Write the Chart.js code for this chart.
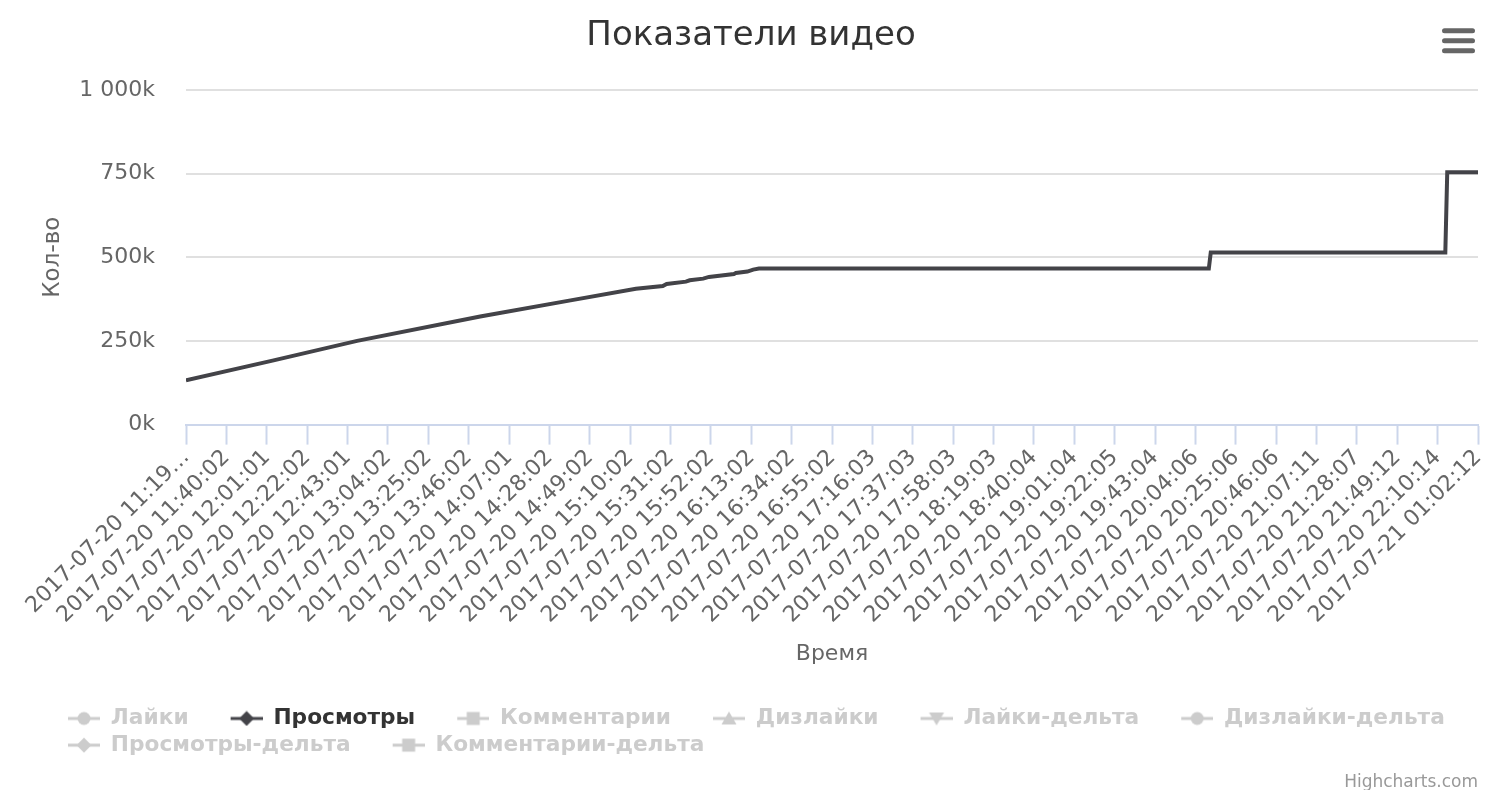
<!DOCTYPE html>
<html lang="ru">
<head>
<meta charset="utf-8">
<title>Показатели видео</title>
<script src="https://cdn.jsdelivr.net/npm/chart.js@4/dist/chart.umd.min.js"></script>
<style>
  html, body { margin: 0; padding: 0; background: #fff; }
  #wrap { width: 1502px; height: 790px; position: relative; }
</style>
</head>
<body>
<div id="wrap"><canvas id="videoChart"></canvas></div>
<script>
// tick labels, one every 21 samples
const timeLabels = [
  '2017-07-20 11:19…', '2017-07-20 11:40:02', '2017-07-20 12:01:01', '2017-07-20 12:22:02',
  '2017-07-20 12:43:01', '2017-07-20 13:04:02', '2017-07-20 13:25:02', '2017-07-20 13:46:02',
  '2017-07-20 14:07:01', '2017-07-20 14:28:02', '2017-07-20 14:49:02', '2017-07-20 15:10:02',
  '2017-07-20 15:31:02', '2017-07-20 15:52:02', '2017-07-20 16:13:02', '2017-07-20 16:34:02',
  '2017-07-20 16:55:02', '2017-07-20 17:16:03', '2017-07-20 17:37:03', '2017-07-20 17:58:03',
  '2017-07-20 18:19:03', '2017-07-20 18:40:04', '2017-07-20 19:01:04', '2017-07-20 19:22:05',
  '2017-07-20 19:43:04', '2017-07-20 20:04:06', '2017-07-20 20:25:06', '2017-07-20 20:46:06',
  '2017-07-20 21:07:11', '2017-07-20 21:28:07', '2017-07-20 21:49:12', '2017-07-20 22:10:14',
  '2017-07-21 01:02:12'
];
const labelStep = 21;
const lastSample = 672;

// "Просмотры": sample index -> views
const sampleIndex = [0, 45, 89, 153, 200, 234, 248, 250, 260, 262, 269, 272, 285, 286, 292, 295, 298, 532, 533, 655, 656, 672];
const views = [132000, 191000, 250000, 323000, 371000, 406000, 414000, 420000, 427000, 431000, 436000, 441000,
  450000, 453000, 457000, 463000, 466000, 466000, 514000, 514000, 754000, 754000];

const seriesNames = ['Лайки', 'Просмотры', 'Комментарии', 'Дизлайки', 'Лайки-дельта',
  'Дизлайки-дельта', 'Просмотры-дельта', 'Комментарии-дельта'];
const seriesColors = ['#7cb5ec', '#434348', '#90ed7d', '#f7a35c', '#8085e9', '#f15c80', '#e4d354', '#2b908f'];
const seriesMarkers = ['circle', 'diamond', 'square', 'triangle', 'triangleDown', 'circle', 'diamond', 'square'];
const seriesHidden = [true, false, true, true, true, true, true, true];

const FONT = "'DejaVu Sans', 'Lucida Grande', Verdana, sans-serif";
const HIDDEN_GREY = '#cccccc';
const SYMBOL_GAP = 37;   // room left of each legend symbol (item distance)
const LEGEND_LEFT = 68;  // where the legend rows begin

// legend symbol: line with marker, with transparent room on the left for item spacing
function makeSymbol(shape, color) {
  const gap = SYMBOL_GAP, w = gap + 32, h = 16;
  const c = document.createElement('canvas');
  c.width = w; c.height = h;
  const g = c.getContext('2d');
  g.strokeStyle = color;
  g.fillStyle = color;
  g.lineWidth = 3;
  g.beginPath();
  g.moveTo(gap, h / 2);
  g.lineTo(w, h / 2);
  g.stroke();
  const cx = gap + 16, cy = h / 2;
  g.beginPath();
  if (shape === 'circle') {
    g.arc(cx, cy, 6.5, 0, Math.PI * 2);
  } else if (shape === 'diamond') {
    g.moveTo(cx, cy - 7.5); g.lineTo(cx + 7.5, cy); g.lineTo(cx, cy + 7.5); g.lineTo(cx - 7.5, cy);
  } else if (shape === 'square') {
    g.rect(cx - 6.5, cy - 6.5, 13, 13);
  } else if (shape === 'triangle') {
    g.moveTo(cx, cy - 7); g.lineTo(cx + 7.5, cy + 6); g.lineTo(cx - 7.5, cy + 6);
  } else {
    g.moveTo(cx - 7.5, cy - 6); g.lineTo(cx + 7.5, cy - 6); g.lineTo(cx, cy + 7);
  }
  g.closePath();
  g.fill();
  return c;
}

const datasets = seriesNames.map((name, i) => ({
  label: name,
  data: name === 'Просмотры' ? sampleIndex.map((x, k) => ({ x, y: views[k] })) : [],
  hidden: seriesHidden[i],
  borderColor: seriesColors[i],
  backgroundColor: seriesColors[i],
  borderWidth: 4,
  pointRadius: 0,
  tension: 0,
  fill: false
}));

// hamburger menu icon and credit text
const decorations = {
  id: 'decorations',
  afterDraw(chart) {
    const ctx = chart.ctx;
    ctx.save();
    ctx.strokeStyle = '#666666';
    ctx.lineWidth = 5;
    ctx.lineCap = 'round';
    [30.8, 40.8, 50.8].forEach(y => {
      ctx.beginPath();
      ctx.moveTo(1444.5, y);
      ctx.lineTo(1472.5, y);
      ctx.stroke();
    });
    ctx.fillStyle = '#999999';
    ctx.font = '17px ' + FONT;
    ctx.textAlign = 'right';
    ctx.textBaseline = 'middle';
    ctx.fillText('Highcharts.com', 1478, 783);
    ctx.restore();
  }
};

// keep legend rows left aligned at the same x, like the original
const legendRows = {
  id: 'legendRows',
  beforeDraw(chart) {
    const legend = chart.legend;
    const lw = legend && legend.lineWidths;
    if (!lw || !lw.length) return;
    const pad = legend.options.labels.padding;
    const w = legend.left + pad + legend.right - 2 * (LEGEND_LEFT - SYMBOL_GAP);
    for (let i = 0; i < lw.length; i++) lw[i] = w;
  }
};

new Chart(document.getElementById('videoChart'), {
  type: 'line',
  data: { datasets },
  plugins: [decorations, legendRows],
  options: {
    responsive: true,
    maintainAspectRatio: false,
    animation: false,
    events: [],
    layout: { padding: { left: 0, right: 0, top: 0, bottom: 24 } },
    plugins: {
      title: {
        display: true,
        text: 'Показатели видео',
        color: '#333333',
        font: { family: FONT, size: 34, weight: 'normal' },
        padding: { top: 16, bottom: 33 }
      },
      legend: {
        position: 'bottom',
        labels: {
          usePointStyle: true,
          pointStyleWidth: SYMBOL_GAP + 32,
          padding: 5,
          font: { family: FONT, size: 21.7, weight: 'bold' },
          generateLabels(chart) {
            return chart.data.datasets.map((ds, i) => ({
              text: ds.label,
              datasetIndex: i,
              hidden: false,
              fontColor: seriesHidden[i] ? HIDDEN_GREY : '#333333',
              pointStyle: makeSymbol(seriesMarkers[i], seriesHidden[i] ? HIDDEN_GREY : seriesColors[i]),
              fillStyle: 'transparent',
              strokeStyle: 'transparent',
              lineWidth: 0
            }));
          }
        }
      },
      tooltip: { enabled: false }
    },
    scales: {
      x: {
        type: 'linear',
        min: 0,
        max: lastSample,
        afterFit(scale) { scale.height = 278; },
        ticks: {
          stepSize: labelStep,
          autoSkip: false,
          minRotation: 45,
          maxRotation: 45,
          padding: 0,
          color: '#666666',
          font: { family: FONT, size: 22 },
          callback: value => timeLabels[Math.round(value / labelStep)] || ''
        },
        grid: {
          drawOnChartArea: false,
          drawTicks: true,
          tickLength: 20,
          tickWidth: 2,
          tickColor: '#ccd6eb'
        },
        border: { display: true, color: '#ccd6eb', width: 2 },
        title: {
          display: true,
          text: 'Время',
          color: '#666666',
          font: { family: FONT, size: 22 },
          padding: { top: 0, bottom: 35 }
        }
      },
      y: {
        min: 0,
        max: 1000000,
        afterFit(scale) { scale.width = 186; },
        ticks: {
          stepSize: 250000,
          padding: 31,
          color: '#666666',
          font: { family: FONT, size: 22 },
          callback: value => String(value / 1000).replace(/\B(?=(\d{3})+(?!\d))/g, ' ') + 'k'
        },
        grid: { color: '#e0e0e0', lineWidth: 2, drawTicks: false },
        border: { display: false },
        title: {
          display: true,
          text: 'Кол-во',
          color: '#666666',
          font: { family: FONT, size: 23 },
          padding: { top: 39, bottom: 0 }
        }
      },
      // empty right margin, as in the original plot
      yRight: {
        position: 'right',
        display: true,
        afterFit(scale) { scale.width = 24; },
        ticks: { display: false },
        grid: { display: false, drawTicks: false },
        border: { display: false }
      }
    }
  }
});
</script>
</body>
</html>
